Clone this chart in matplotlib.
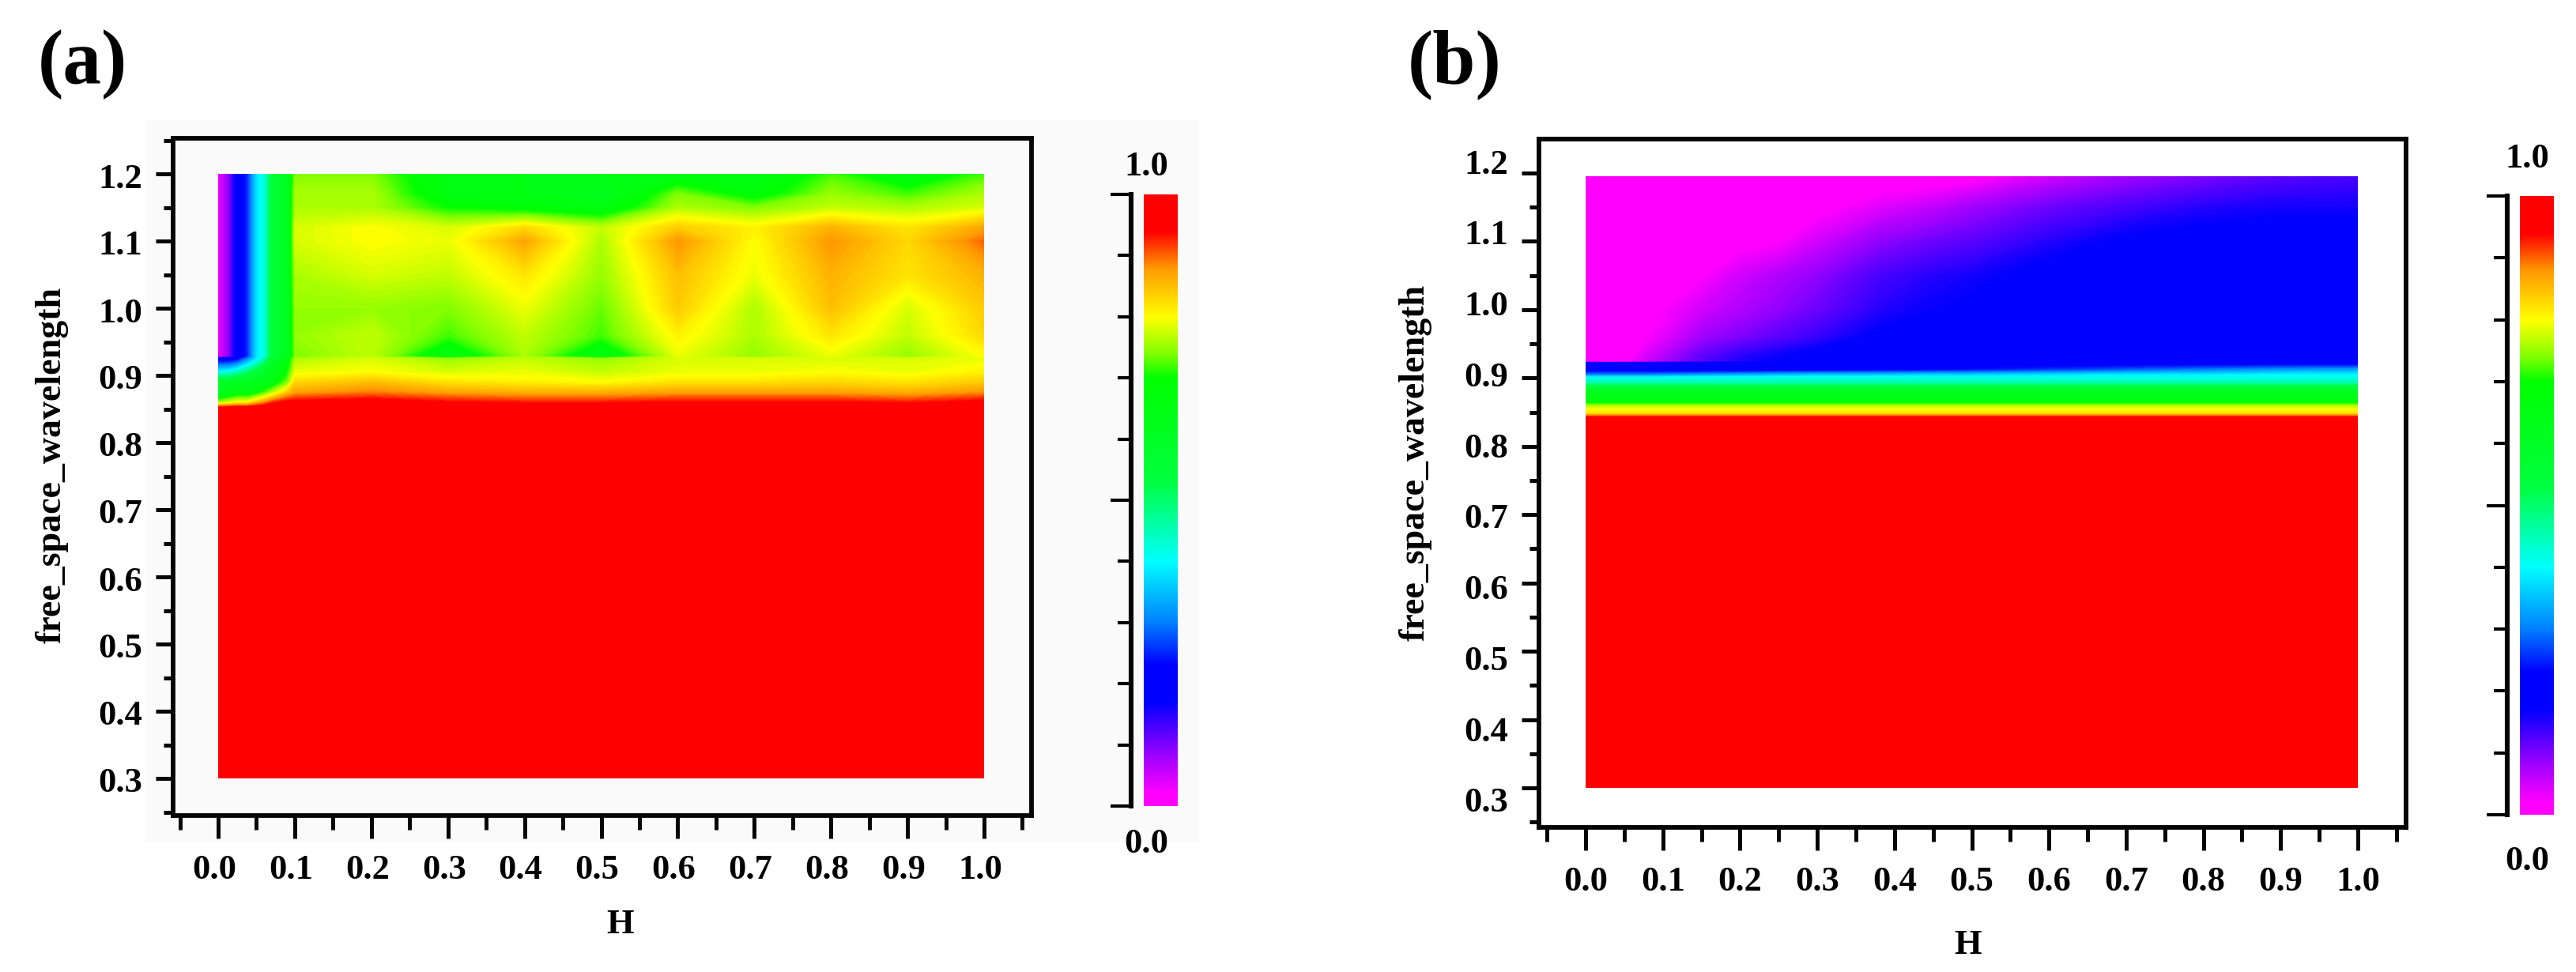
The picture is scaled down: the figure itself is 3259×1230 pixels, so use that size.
import numpy as np
import matplotlib
matplotlib.use("Agg")
import matplotlib.pyplot as plt
from matplotlib.colors import LinearSegmentedColormap
from matplotlib.patches import Rectangle
from matplotlib.ticker import MultipleLocator
from matplotlib.transforms import Affine2D

plt.rcParams['font.family'] = ['Liberation Serif', 'DejaVu Serif']
plt.rcParams['font.weight'] = 'bold'

W, H = 3259, 1230
BLACK = '#050505'

# ---------- data ----------
x_ticks = [0.0, 0.1, 0.2, 0.3, 0.4, 0.5, 0.6, 0.7, 0.8, 0.9, 1.0]
y_ticks = [0.3, 0.4, 0.5, 0.6, 0.7, 0.8, 0.9, 1.0, 1.1, 1.2]

a_h = [0, .015, .025, .038, .05, .06, .07, .09, .1, .2, .3, .4, .5, .6, .7, .8, .9, 1.0]
a_wl = [.3, .85, .86, .875, .89, .905, .925, .928, .93, .96, 1.0, 1.05, 1.1, 1.12, 1.15, 1.17, 1.2]
a_left = [.03, .1, .2, .25, .38, .42, .55, .62]
a_vals = [
    [1.0] * 18,
    [1.0] * 18,
    [.75, .78, .8, .8, .85, .88, .92, .95, .95, .96, .94, .93, .93, .94, .94, .94, .93, .95],
    [.62, .64, .66, .66, .68, .72, .76, .84, .87, .89, .87, .86, .86, .87, .87, .87, .86, .88],
    [.6, .6, .62, .62, .64, .64, .66, .74, .83, .85, .82, .81, .8, .82, .82, .83, .82, .84],
    [.4, .42, .45, .5, .56, .6, .63, .7, .79, .8, .78, .79, .77, .79, .79, .8, .79, .81],
    [.2, .2, .22, .3, .38, .45, .58, .66, .76, .78, .75, .77, .75, .78, .78, .78, .78, .79],
    a_left + [.74, .77, .66, .76, .66, .79, .75, .79, .75, .8],
    a_left + [.74, .77, .66, .76, .66, .79, .75, .79, .75, .8],
    a_left + [.75, .77, .72, .77, .72, .81, .76, .82, .77, .83],
    a_left + [.75, .75, .74, .79, .73, .84, .76, .85, .78, .84],
    a_left + [.76, .78, .77, .82, .75, .85, .79, .86, .82, .86],
    a_left + [.78, .80, .79, .87, .76, .88, .80, .88, .83, .90],
    a_left + [.78, .80, .78, .83, .77, .84, .81, .86, .82, .87],
    a_left + [.76, .76, .70, .68, .66, .76, .74, .77, .76, .78],
    a_left + [.76, .76, .66, .65, .62, .74, .68, .75, .72, .76],
    a_left + [.74, .74, .66, .65, .65, .66, .65, .72, .66, .72],
]

b_h = [0, .05, .08, .15, .2, .25, .3, .38, .45, .5, .6, .7, .8, .9, 1.0]
b_wl = [.3, .841, .845, .849, .855, .86, .865, .88, .887, .893, .9, .905, .912, .922,
        .924, .93, .96, 1.0, 1.05, 1.1, 1.15, 1.195]
b_upper = [
    [.2, .2, .2, .2, .2, .2, .2, .2, .2, .2, .2, .2, .2, .2, .2],
    [0, .01, .05, .12, .15, .17, .19, .2, .2, .2, .2, .2, .2, .2, .2],
    [0, .01, .05, .12, .15, .17, .19, .2, .2, .2, .2, .2, .2, .2, .2],
    [0, 0, .02, .08, .1, .12, .14, .18, .2, .2, .2, .2, .2, .2, .2],
    [0, 0, .01, .05, .07, .09, .11, .15, .17, .18, .2, .2, .2, .2, .2],
    [0, 0, 0, .02, .05, .07, .09, .13, .15, .16, .19, .2, .2, .2, .2],
    [0, 0, 0, 0, .01, .02, .05, .09, .11, .12, .15, .18, .19, .2, .2],
    [0, 0, 0, 0, 0, 0, .01, .04, .06, .08, .11, .13, .15, .16, .16],
    [0, 0, 0, 0, 0, 0, 0, 0, 0, .01, .05, .08, .1, .12, .13],
]
b_lower = [1.0, 1.0, .9, .82, .8, .76, .68, .62, .55, .46, .42]
b_905 = [.3, .3, .3, .32, .33, .34, .35, .35, .36, .36, .37, .38, .38, .39, .39]
b_912 = [.2, .2, .2, .2, .2, .21, .21, .22, .23, .24, .26, .28, .3, .32, .33]

cbar_stops = [0, .02, .08, .17, .23, .3, .4, .53, .7, .74, .8, .88, .94, 1]
cbar_cols = ['#ff00ff', '#ff00ff', '#a000ff', '#0000ff', '#0000ff', '#0080ff', '#00ffff',
             '#00ff40', '#00ff00', '#80ff00', '#ffff00', '#ff9900', '#ff0000', '#ff0000']
cmap = LinearSegmentedColormap.from_list('rb', list(zip(cbar_stops, cbar_cols)), N=512)
levels = np.linspace(0, 1.0001, 201)


def axes_px(l, t, r, b):
    return fig.add_axes([l / W, 1 - b / H, (r - l) / W, (b - t) / H])


def panel(box, hspan, wspan, xs, ys, zs, xoff, yoff):
    l, t, r, b = box
    ax = axes_px(l, t, r, b)
    ax.patch.set_alpha(0)
    px_x0, px_x1 = hspan
    px_y12, px_y03 = wspan
    sx = (px_x1 - px_x0)
    sy = (px_y03 - px_y12) / 0.9
    ax.set_xlim((l - px_x0) / sx, (r - px_x0) / sx)
    ax.set_ylim(1.2 - (b - px_y12) / sy, 1.2 - (t - px_y12) / sy)
    ax.contourf(xs, ys, np.array(zs), levels=levels, cmap=cmap, antialiased=False)
    for s in ax.spines.values():
        s.set_linewidth(4.2)
        s.set_color(BLACK)
    ax.set_xticks(x_ticks)
    ax.set_yticks(y_ticks)
    ax.set_xticklabels([f'{v:.1f}' for v in x_ticks], fontsize=32, fontweight='bold')
    ax.set_yticklabels([f'{v:.1f}' for v in y_ticks], fontsize=32, fontweight='bold')
    ax.xaxis.set_minor_locator(MultipleLocator(0.1, offset=0.05))
    ax.yaxis.set_minor_locator(MultipleLocator(0.1, offset=0.05))
    ax.tick_params(axis='x', which='major', length=21, width=3.6, pad=14, color=BLACK)
    ax.tick_params(axis='x', which='minor', length=13, width=3.6, color=BLACK)
    ax.tick_params(axis='y', which='major', length=16, width=3.6, pad=12, color=BLACK)
    ax.tick_params(axis='y', which='minor', length=9, width=3.6, color=BLACK)
    for lab, v in zip(ax.get_xticklabels(), x_ticks):
        lab.set_transform(lab.get_transform() + Affine2D().translate(*xoff(v)))
    for lab, v in zip(ax.get_yticklabels(), y_ticks):
        lab.set_transform(lab.get_transform() + Affine2D().translate(*yoff(v)))
    return ax


def colorbar(box, label_x, top_y, bot_y):
    l, t, r, b = box
    ax = axes_px(l, t, r, b)
    ax.imshow(np.linspace(1, 0, 512)[:, None], aspect='auto', cmap=cmap, vmin=0, vmax=1,
              extent=[0, 1, 0, 1], interpolation='bilinear')
    for k in ('top', 'right', 'bottom'):
        ax.spines[k].set_visible(False)
    ax.spines['left'].set_position(('outward', 11.5))
    ax.spines['left'].set_linewidth(4.4)
    ax.spines['left'].set_color(BLACK)
    ax.set_xticks([])
    ax.set_yticks([0, .5, 1])
    ax.set_yticklabels([])
    ax.yaxis.set_minor_locator(MultipleLocator(0.1))
    ax.tick_params(axis='y', which='major', length=19, width=3, color=BLACK)
    ax.tick_params(axis='y', which='minor', length=12, width=3, color=BLACK)
    fig.text(label_x / W, 1 - top_y / H, '1.0', ha='center', va='center', fontsize=32, fontweight='bold')
    fig.text(label_x / W, 1 - bot_y / H, '0.0', ha='center', va='center', fontsize=32, fontweight='bold')
    return ax


fig = plt.figure(figsize=(W / 100, H / 100), dpi=100, facecolor='white')

# faint scan background behind panel (a)
fig.patches.append(Rectangle((184 / W, 1 - 1066 / H), (1517 - 184) / W, (1066 - 152) / H,
                             transform=fig.transFigure, facecolor='#fafafa', edgecolor='none', zorder=-5))

# panel a
panel((219, 175, 1305, 1032), (276, 1245), (220, 985), a_h, a_wl, a_vals,
      lambda v: (-5, 0), lambda v: (0, -2))
colorbar((1447, 246, 1490, 1020), 1450, 211, 1068)

# panel b
z_b = [list(np.full(15, v)) for v in b_lower]
z_b += [b_905, b_912] + b_upper
panel((1947, 176, 3044, 1047), (2006, 2983), (219, 997), b_h, b_wl, z_b,
      lambda v: (0, 0), lambda v: (0, (v - 0.75) * 33 + 0))
colorbar((3188, 248, 3231, 1031), 3197, 201, 1090)

# axis titles and panel letters
fig.text(785 / W, 1 - 1170 / H, 'H', ha='center', va='center', fontsize=32, fontweight='bold')
fig.text(2490 / W, 1 - 1196 / H, 'H', ha='center', va='center', fontsize=32, fontweight='bold')
fig.text(66 / W, 1 - 588 / H, 'free_space_wavelength', rotation=90, ha='center', va='center',
         fontsize=33, fontweight='bold')
fig.text(1791 / W, 1 - 585 / H, 'free_space_wavelength', rotation=90, ha='center', va='center',
         fontsize=33, fontweight='bold')
fig.text(48 / W, 1 - 82 / H, '(a)', ha='left', va='center', fontsize=70, fontweight='bold')
fig.text(1781 / W, 1 - 82 / H, '(b)', ha='left', va='center', fontsize=70, fontweight='bold')

fig.savefig('out.png', dpi=100, facecolor='white')
